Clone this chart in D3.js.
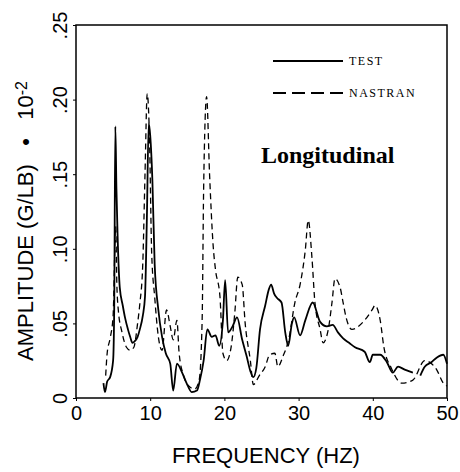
<!DOCTYPE html>
<html>
<head>
<meta charset="utf-8">
<script src="https://cdn.jsdelivr.net/npm/d3@7"></script>
<style>
  body { margin: 0; background: #fff; }
</style>
</head>
<body>
<svg></svg>
<script>
// TEST (measured) curve
const testFreq = [3.7, 3.9, 4.2, 4.6, 5.0, 5.15, 5.3, 5.45, 5.6, 5.9, 6.3, 6.6, 7.0, 7.3, 7.6, 7.9, 8.3, 8.6, 9.0, 9.3, 9.55, 9.8, 10.0, 10.3, 10.6, 11.1, 11.6, 12.1, 12.7, 13.1, 13.6, 14.3, 14.9, 15.6, 16.3, 16.7, 17.2, 17.7, 18.3, 18.8, 19.3, 19.8, 20.1, 20.5, 21.1, 21.7, 22.4, 23.0, 23.5, 23.9, 24.3, 24.8, 25.5, 26.0, 26.3, 26.7, 27.1, 27.7, 28.2, 28.6, 29.1, 29.4, 30.2, 30.9, 31.9, 32.9, 33.8, 34.6, 35.3, 36.0, 36.8, 37.6, 38.9, 39.6, 40.0, 41.0, 41.9, 42.7, 43.4, 44.3, 45.4];
const testAmp = [0.010, 0.004, 0.011, 0.014, 0.025, 0.060, 0.182, 0.140, 0.110, 0.074, 0.062, 0.054, 0.046, 0.041, 0.037, 0.038, 0.041, 0.046, 0.055, 0.068, 0.120, 0.184, 0.176, 0.145, 0.090, 0.059, 0.041, 0.030, 0.023, 0.005, 0.023, 0.017, 0.010, 0.004, 0.005, 0.012, 0.025, 0.046, 0.041, 0.042, 0.035, 0.052, 0.079, 0.044, 0.048, 0.054, 0.039, 0.028, 0.018, 0.014, 0.020, 0.046, 0.062, 0.073, 0.076, 0.070, 0.067, 0.064, 0.044, 0.035, 0.050, 0.054, 0.042, 0.052, 0.064, 0.051, 0.048, 0.049, 0.044, 0.040, 0.037, 0.034, 0.031, 0.024, 0.029, 0.029, 0.024, 0.017, 0.021, 0.019, 0.017];
// second piece of the TEST curve, after the gap near 46 Hz
const testFreq2 = [46.4, 47.0, 47.9, 48.6, 49.5, 50.0];
const testAmp2 = [0.015, 0.021, 0.024, 0.027, 0.029, 0.023];

// NASTRAN (analysis) curve
const nastranFreq = [4.0, 4.2, 4.6, 5.0, 5.35, 5.5, 5.7, 6.2, 6.8, 7.3, 7.8, 8.3, 8.6, 9.0, 9.3, 9.6, 9.9, 10.2, 10.6, 11.1, 11.6, 12.2, 12.7, 13.1, 13.6, 13.9, 14.5, 15.2, 16.0, 16.6, 17.0, 17.2, 17.6, 18.0, 18.5, 18.8, 19.4, 19.8, 20.3, 20.9, 21.4, 21.8, 22.4, 22.8, 23.5, 23.9, 24.7, 25.5, 26.1, 26.8, 27.2, 27.9, 28.7, 29.5, 30.2, 30.9, 31.3, 31.8, 32.2, 32.9, 33.3, 34.0, 34.5, 34.9, 35.6, 36.0, 36.4, 37.2, 38.7, 39.9, 40.3, 41.0, 41.5, 42.5, 43.9, 45.4, 47.0, 48.6, 49.5, 50.0];
const nastranAmp = [0.015, 0.030, 0.040, 0.055, 0.115, 0.077, 0.059, 0.044, 0.034, 0.032, 0.034, 0.050, 0.063, 0.090, 0.150, 0.204, 0.175, 0.097, 0.068, 0.041, 0.032, 0.059, 0.048, 0.039, 0.052, 0.030, 0.015, 0.008, 0.006, 0.012, 0.052, 0.140, 0.202, 0.150, 0.101, 0.086, 0.068, 0.030, 0.025, 0.034, 0.057, 0.081, 0.076, 0.050, 0.025, 0.009, 0.015, 0.021, 0.029, 0.030, 0.021, 0.028, 0.040, 0.064, 0.076, 0.099, 0.119, 0.094, 0.064, 0.046, 0.037, 0.046, 0.064, 0.080, 0.074, 0.064, 0.054, 0.046, 0.051, 0.059, 0.062, 0.052, 0.034, 0.020, 0.010, 0.012, 0.025, 0.019, 0.010, 0.008];

const xTicks = [0, 10, 20, 30, 40, 50];
const yTicks = [0, 0.05, 0.10, 0.15, 0.20, 0.25];

const svgWidth = 460;
const svgHeight = 472;
const margin = { top: 25, right: 13, bottom: 74, left: 76 };
const width = svgWidth - margin.left - margin.right;
const height = svgHeight - margin.top - margin.bottom;

const svg = d3.select('svg')
    .attr('width', svgWidth)
    .attr('height', svgHeight);

const g = svg.append('g')
    .attr('transform', `translate(${margin.left}, ${margin.top})`);

const xScale = d3.scaleLinear().domain([0, 50]).range([0, width]);
const yScale = d3.scaleLinear().domain([0, 0.25]).range([height, 0]);

const sans = 'Liberation Sans, Arial, sans-serif';
const serif = 'Liberation Serif, Times New Roman, serif';

// frame
g.append('rect')
    .attr('x', 0)
    .attr('y', 0)
    .attr('width', width)
    .attr('height', height)
    .attr('fill', 'none')
    .attr('stroke', '#000')
    .attr('stroke-width', 1.5);

// axes
const xAxis = g.append('g')
    .attr('transform', `translate(0, ${height})`)
    .call(d3.axisBottom(xScale).tickValues(xTicks).tickSize(3).tickPadding(5));
xAxis.select('.domain').remove();
xAxis.selectAll('text')
    .attr('font-family', sans)
    .attr('font-size', '20px')
    .attr('fill', '#000');

const fmtY = d => d === 0 ? '0' : d3.format('.2f')(d).replace(/^0/, '');
const yAxis = g.append('g')
    .call(d3.axisLeft(yScale).tickValues(yTicks).tickSize(3).tickFormat(fmtY));
yAxis.select('.domain').remove();
yAxis.selectAll('text')
    .attr('font-family', sans)
    .attr('font-size', '20px')
    .attr('fill', '#000')
    .attr('text-anchor', 'middle')
    .attr('dy', null)
    .attr('dominant-baseline', 'central')
    .attr('x', null)
    .attr('transform', 'translate(-16, 0) rotate(-90)');

// curves
const line = d3.line()
    .x(d => xScale(d[0]))
    .y(d => yScale(d[1]))
    .curve(d3.curveMonotoneX);

g.append('path')
    .datum(d3.zip(nastranFreq, nastranAmp))
    .attr('fill', 'none')
    .attr('stroke', '#000')
    .attr('stroke-width', 1.3)
    .attr('stroke-dasharray', '6,4')
    .attr('d', line);

[d3.zip(testFreq, testAmp), d3.zip(testFreq2, testAmp2)].forEach(seg => {
    g.append('path')
        .datum(seg)
        .attr('fill', 'none')
        .attr('stroke', '#000')
        .attr('stroke-width', 1.8)
        .attr('stroke-linejoin', 'round')
        .attr('d', line);
});

// legend
const legend = svg.append('g');
legend.append('line')
    .attr('x1', 273).attr('x2', 343).attr('y1', 61).attr('y2', 61)
    .attr('stroke', '#000').attr('stroke-width', 1.8);
legend.append('text')
    .attr('x', 349).attr('y', 65)
    .attr('font-family', serif).attr('font-size', '12px')
    .attr('letter-spacing', 1.5)
    .text('TEST');
legend.append('line')
    .attr('x1', 273).attr('x2', 343).attr('y1', 93).attr('y2', 93)
    .attr('stroke', '#000').attr('stroke-width', 1.8)
    .attr('stroke-dasharray', '13,6');
legend.append('text')
    .attr('x', 349).attr('y', 97)
    .attr('font-family', serif).attr('font-size', '12px')
    .attr('letter-spacing', 1.5)
    .text('NASTRAN');

svg.append('text')
    .attr('x', 261).attr('y', 163)
    .attr('font-family', serif)
    .attr('font-weight', 'bold')
    .attr('font-size', '24px')
    .text('Longitudinal');

// axis titles
svg.append('text')
    .attr('x', 266).attr('y', 463)
    .attr('text-anchor', 'middle')
    .attr('font-family', sans)
    .attr('font-size', '22px')
    .text('FREQUENCY (HZ)');

const yTitle = svg.append('text')
    .attr('transform', 'translate(33, 221) rotate(-90)')
    .attr('text-anchor', 'middle')
    .attr('font-family', sans)
    .attr('font-size', '22px');
yTitle.append('tspan').text('AMPLITUDE (G/LB)\u00a0\u00a0\u00a0•\u00a0\u00a0\u00a010');
yTitle.append('tspan').attr('dy', -6).attr('font-size', '16px').text('-2');
</script>
</body>
</html>
